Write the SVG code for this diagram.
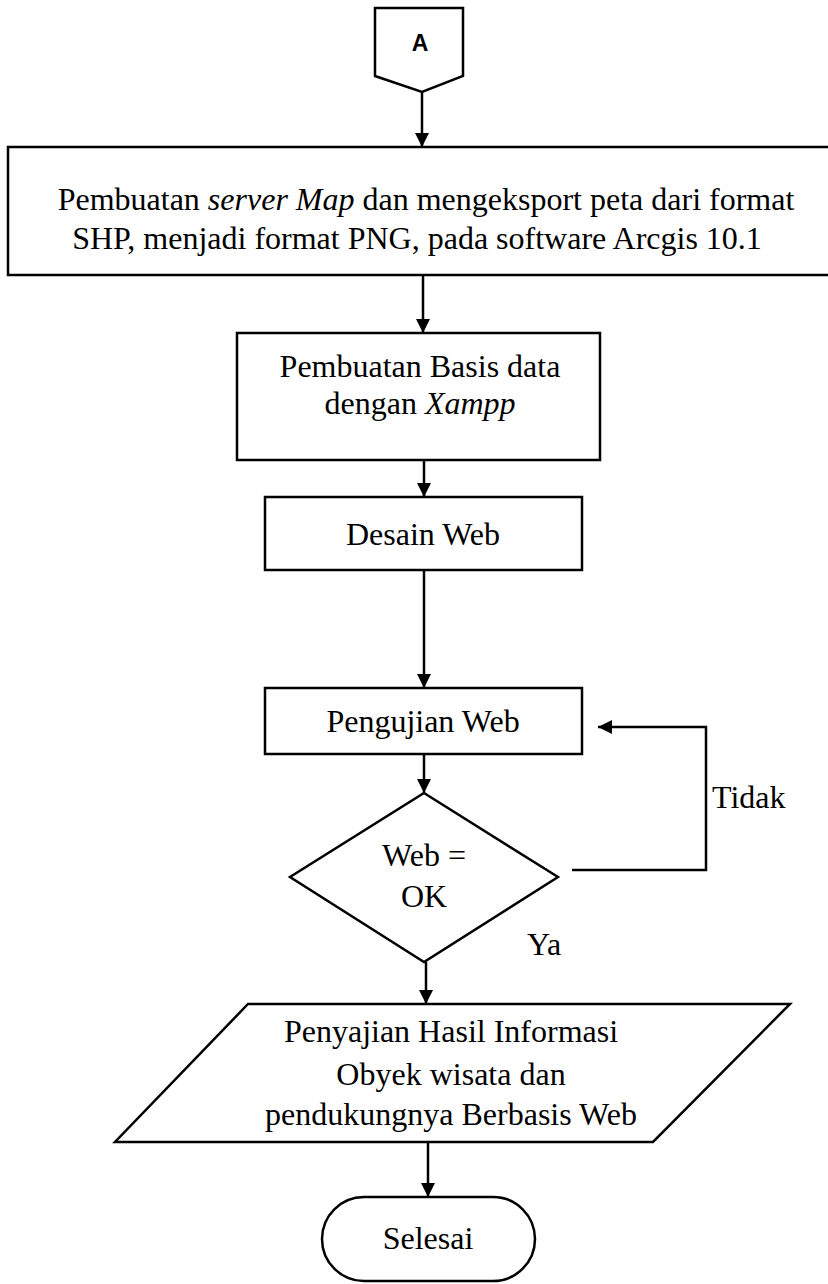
<svg xmlns="http://www.w3.org/2000/svg" width="828" height="1284" viewBox="0 0 828 1284">
  <style>
    .shape { fill: #ffffff; stroke: #000000; stroke-width: 2.5; }
    .lbl { font-family: "Liberation Serif", "Times New Roman", serif; font-size: 32px; fill: #000000; text-anchor: middle; }
    .lbl-start { font-family: "Liberation Serif", "Times New Roman", serif; font-size: 32px; fill: #000000; }
    .it { font-style: italic; }
    .conn { fill: none; stroke: #000000; stroke-width: 2.5; }
  </style>
  <defs>
    <marker id="arrow" viewBox="0 0 14 14" refX="14" refY="7" markerWidth="14" markerHeight="14" markerUnits="userSpaceOnUse" orient="auto">
      <path d="M0,0 L14,7 L0,14 Z" fill="#000000"/>
    </marker>
  </defs>
  <rect width="828" height="1284" fill="#ffffff"/>

  <!-- off-page connector -->
  <g id="node-a">
    <polygon class="shape" points="375,8 463,8 463,76 422,92 375,76"/>
    <text x="420" y="51" font-family="Liberation Sans, Arial, sans-serif" font-size="23" font-weight="bold" text-anchor="middle">A</text>
  </g>

  <!-- process: server map / export -->
  <g id="node-server-map">
    <rect class="shape" x="8" y="147" width="840" height="128"/>
    <text class="lbl" x="426" y="210">Pembuatan <tspan class="it">server Map</tspan> dan mengeksport peta dari format</text>
    <text class="lbl" x="417" y="249">SHP, menjadi format PNG, pada software Arcgis 10.1</text>
  </g>

  <!-- process: database -->
  <g id="node-database">
    <rect class="shape" x="237" y="333" width="363" height="127"/>
    <text class="lbl" x="420" y="377">Pembuatan Basis data</text>
    <text class="lbl" x="420" y="414">dengan <tspan class="it">Xampp</tspan></text>
  </g>

  <!-- process: web design -->
  <g id="node-desain">
    <rect class="shape" x="265" y="497" width="317" height="73"/>
    <text class="lbl" x="423" y="545">Desain Web</text>
  </g>

  <!-- process: web testing -->
  <g id="node-pengujian">
    <rect class="shape" x="265" y="688" width="317" height="66"/>
    <text class="lbl" x="423" y="732">Pengujian Web</text>
  </g>

  <!-- decision -->
  <g id="node-decision">
    <polygon class="shape" points="424,793 558,877 424,962 290,877"/>
    <text class="lbl" x="424" y="866">Web =</text>
    <text class="lbl" x="424" y="907">OK</text>
  </g>

  <!-- output -->
  <g id="node-output">
    <polygon class="shape" points="248,1004 790,1004 653,1142 115,1142"/>
    <text class="lbl" x="451" y="1042">Penyajian Hasil Informasi</text>
    <text class="lbl" x="451" y="1085">Obyek wisata dan</text>
    <text class="lbl" x="451" y="1125">pendukungnya Berbasis Web</text>
  </g>

  <!-- terminator -->
  <g id="node-selesai">
    <rect class="shape" x="322" y="1197" width="213" height="84" rx="42" ry="42"/>
    <text class="lbl" x="428" y="1249">Selesai</text>
  </g>

  <!-- connectors -->
  <g id="connectors">
    <line class="conn" x1="422" y1="92" x2="422" y2="147" marker-end="url(#arrow)"/>
    <line class="conn" x1="423" y1="275" x2="423" y2="333" marker-end="url(#arrow)"/>
    <line class="conn" x1="424" y1="460" x2="424" y2="497" marker-end="url(#arrow)"/>
    <line class="conn" x1="424" y1="570" x2="424" y2="688" marker-end="url(#arrow)"/>
    <line class="conn" x1="424" y1="754" x2="424" y2="793" marker-end="url(#arrow)"/>
    <polyline class="conn" points="572,870 706,870 706,727 598,727" marker-end="url(#arrow)"/>
    <line class="conn" x1="426" y1="962" x2="426" y2="1004" marker-end="url(#arrow)"/>
    <line class="conn" x1="428" y1="1142" x2="428" y2="1197" marker-end="url(#arrow)"/>
    <text class="lbl-start" x="712" y="808">Tidak</text>
    <text class="lbl-start" x="527" y="955">Ya</text>
  </g>
</svg>
